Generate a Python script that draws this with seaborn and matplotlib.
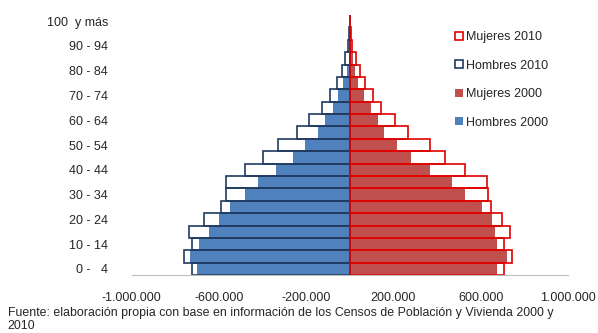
import numpy as np
import pandas as pd
import matplotlib.pyplot as plt
import seaborn as sns
from matplotlib.patches import Patch
from matplotlib.ticker import FuncFormatter

# Grupos de edad (de abajo hacia arriba)
edades = ['0 -   4', '5 - 9', '10 - 14', '15 - 19', '20 - 24', '25 - 29', '30 - 34',
          '35 - 39', '40 - 44', '45 - 49', '50 - 54', '55 - 59', '60 - 64', '65 - 69',
          '70 - 74', '75 - 79', '80 - 84', '85 - 89', '90 - 94', '95 - 99', '100  y más']

# Poblacion por grupo de edad
hombres_2000 = [698000, 733000, 690000, 646000, 600000, 550000, 481000, 420000, 340000, 260000,
                206000, 145000, 115000, 76000, 54000, 31000, 15000, 6000, 3000, 1500, 800]
hombres_2010 = [725000, 760000, 722000, 736000, 669000, 592000, 568000, 568000, 478000, 397000,
                328000, 244000, 186000, 128000, 92000, 58000, 34000, 21000, 10000, 4000, 1500]
mujeres_2000 = [675000, 718000, 675000, 664000, 652000, 606000, 528000, 466000, 368000, 278000,
                217000, 156000, 127000, 95000, 66000, 38000, 23000, 15000, 7000, 3000, 1000]
mujeres_2010 = [707000, 741000, 705000, 734000, 698000, 646000, 632000, 629000, 527000, 437000,
                366000, 266000, 206000, 145000, 108000, 70000, 46000, 27000, 12000, 5000, 2000]

etiquetas = [e if i % 2 == 0 else '' for i, e in enumerate(edades)]

sns.set_style("white")
plt.rcParams['font.family'] = ['Liberation Sans', 'DejaVu Sans']

azul = '#4F81BD'
rojo = '#C0504D'
azul_borde = '#1F3B60'
rojo_borde = '#E00000'

fig = plt.figure(figsize=(5.98, 3.33), dpi=100)
ax = fig.add_axes([0.220, 0.174, 0.730, 0.781])

df = pd.DataFrame({'edad': edades,
                   'h2000': -np.array(hombres_2000), 'h2010': -np.array(hombres_2010),
                   'm2000': mujeres_2000, 'm2010': mujeres_2010})

# barras rellenas 2000
sns.barplot(data=df, x='h2000', y='edad', order=edades, orient='h', color=azul,
            saturation=1, width=1.0, linewidth=0, errorbar=None, ax=ax)
sns.barplot(data=df, x='m2000', y='edad', order=edades, orient='h', color=rojo,
            saturation=1, width=1.0, linewidth=0, errorbar=None, ax=ax)
# contornos 2010
sns.barplot(data=df, x='h2010', y='edad', order=edades, orient='h', color=azul_borde,
            saturation=1, width=1.0, fill=False, linewidth=1.2, errorbar=None, ax=ax)
sns.barplot(data=df, x='m2010', y='edad', order=edades, orient='h', color=rojo_borde,
            saturation=1, width=1.0, fill=False, linewidth=1.2, errorbar=None, ax=ax)

ax.set_ylim(-0.5, 20.5)
ax.set_xlim(-1000000, 1000000)
ax.set_xticks(np.arange(-1000000, 1000001, 400000))
ax.xaxis.set_major_formatter(FuncFormatter(lambda v, p: f"{v:,.0f}".replace(",", ".")))
ax.set_yticks(range(len(edades)))
ax.set_yticklabels(etiquetas)
ax.set_xlabel('')
ax.set_ylabel('')

for s in ['top', 'right', 'left']:
    ax.spines[s].set_visible(False)
ax.spines['bottom'].set_color('#BFBFBF')
ax.tick_params(axis='x', direction='out', length=4, color='#A6A6A6', labelsize=9, pad=8)
ax.tick_params(axis='y', length=0, labelsize=9, pad=17)

handles = [Patch(facecolor='white', edgecolor=rojo_borde, linewidth=1.2),
           Patch(facecolor='white', edgecolor=azul_borde, linewidth=1.2),
           Patch(facecolor=rojo, edgecolor='none'),
           Patch(facecolor=azul, edgecolor='none')]
fig.legend(handles, ['Mujeres 2010', 'Hombres 2010', 'Mujeres 2000', 'Hombres 2000'],
           loc='upper left', bbox_to_anchor=(0.761, 0.907), frameon=False, fontsize=9,
           handlelength=0.6, handleheight=0.6, handletextpad=0.3, labelspacing=1.33,
           borderpad=0, borderaxespad=0)

fig.text(0.013, 0.079, 'Fuente: elaboración propia con base en información de los Censos de Población y Vivienda 2000 y\n2010',
         fontsize=8.9, va='top', ha='left', linespacing=1.1)

plt.savefig("out.png", dpi=100)
